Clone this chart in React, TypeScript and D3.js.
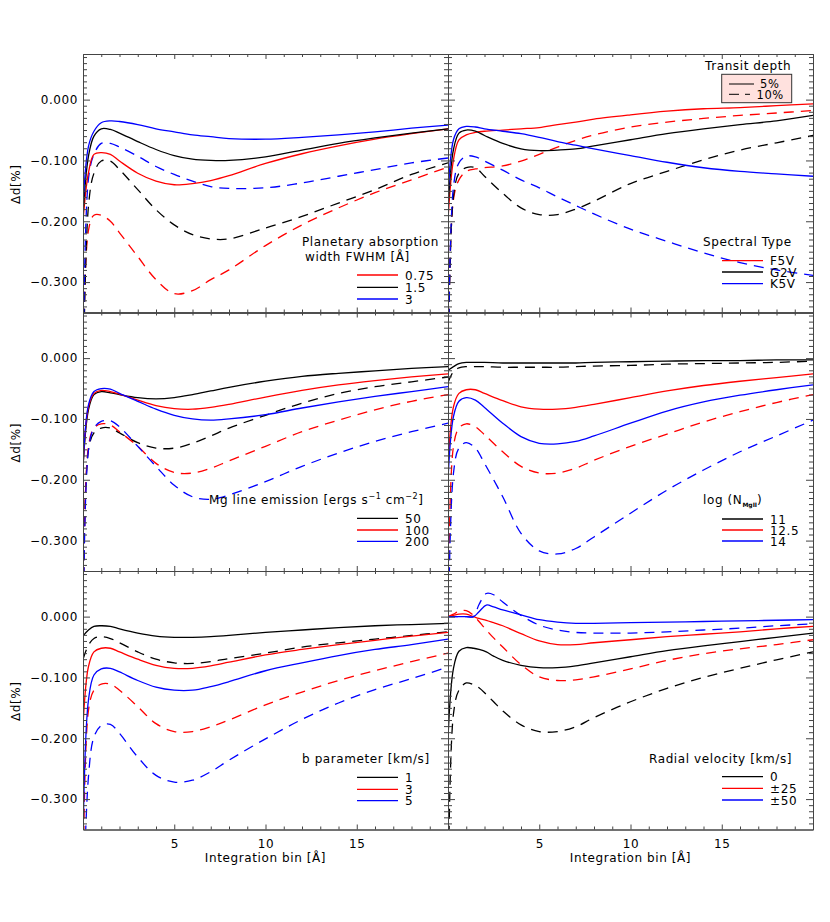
import React, { useRef, useEffect } from 'react';
import * as d3 from 'd3';

// x grid (Integration bin, Å) used for the curves of each panel
const xsA = [0, 0.3, 0.6, 1, 1.5, 2, 3, 4, 5, 6, 7, 8, 10, 12, 14, 16, 18, 20];
const xsB = [0, 0.3, 0.6, 1, 1.4, 1.7, 2.1, 2.5, 3, 4, 5, 6, 7, 8, 10, 12, 14, 16, 18, 20];

const xMajor = [5, 10, 15];
const yMajor = [0, -0.1, -0.2, -0.3];
const yTickLabels = ['0.000', '\u22120.100', '\u22120.200', '\u22120.300'];

// Panel 1: planetary absorption width FWHM (solid = 5%, dashed = 10%)
const fwhm075Solid = [-0.200, -0.120, -0.090, -0.087, -0.090, -0.101, -0.121, -0.134, -0.140, -0.138, -0.133, -0.125, -0.105, -0.089, -0.076, -0.065, -0.056, -0.048];
const fwhm15Solid = [-0.190, -0.093, -0.060, -0.048, -0.049, -0.055, -0.069, -0.082, -0.092, -0.098, -0.100, -0.100, -0.094, -0.083, -0.072, -0.063, -0.055, -0.048];
const fwhm3Solid = [-0.175, -0.077, -0.052, -0.038, -0.035, -0.036, -0.041, -0.048, -0.053, -0.058, -0.061, -0.064, -0.065, -0.062, -0.058, -0.053, -0.047, -0.042];
const fwhm075Dashed = [-0.5, -0.215, -0.190, -0.190, -0.200, -0.219, -0.258, -0.296, -0.319, -0.314, -0.296, -0.280, -0.240, -0.206, -0.178, -0.153, -0.132, -0.111];
const fwhm15Dashed = [-0.5, -0.175, -0.121, -0.101, -0.101, -0.115, -0.148, -0.181, -0.206, -0.222, -0.229, -0.229, -0.211, -0.192, -0.170, -0.148, -0.123, -0.104];
const fwhm3Dashed = [-0.5, -0.130, -0.090, -0.072, -0.072, -0.078, -0.093, -0.110, -0.123, -0.134, -0.143, -0.146, -0.145, -0.137, -0.126, -0.115, -0.104, -0.096];

// Panel 2: spectral type
const f5vSolid = [-0.197, -0.099, -0.066, -0.058, -0.054, -0.052, -0.050, -0.048, -0.046, -0.041, -0.037, -0.032, -0.025, -0.019, -0.015, -0.013, -0.010, -0.007];
const g2vSolid = [-0.180, -0.082, -0.055, -0.050, -0.052, -0.059, -0.072, -0.081, -0.084, -0.083, -0.081, -0.076, -0.066, -0.056, -0.048, -0.041, -0.035, -0.026];
const k5vSolid = [-0.160, -0.066, -0.048, -0.044, -0.045, -0.048, -0.052, -0.056, -0.062, -0.069, -0.075, -0.081, -0.092, -0.103, -0.112, -0.118, -0.122, -0.126];
const f5vDashed = [-0.5, -0.164, -0.132, -0.118, -0.114, -0.112, -0.109, -0.101, -0.090, -0.078, -0.067, -0.058, -0.045, -0.037, -0.031, -0.026, -0.022, -0.018];
const g2vDashed = [-0.5, -0.159, -0.121, -0.112, -0.112, -0.126, -0.154, -0.178, -0.189, -0.189, -0.180, -0.167, -0.138, -0.118, -0.099, -0.083, -0.071, -0.059];
const k5vDashed = [-0.5, -0.143, -0.104, -0.093, -0.094, -0.101, -0.116, -0.132, -0.145, -0.160, -0.174, -0.188, -0.213, -0.233, -0.252, -0.268, -0.280, -0.289];

// Panel 3: Mg line emission
const mg50Solid = [-0.180, -0.085, -0.060, -0.055, -0.057, -0.060, -0.065, -0.067, -0.065, -0.060, -0.054, -0.048, -0.038, -0.030, -0.025, -0.021, -0.017, -0.014];
const mg100Solid = [-0.180, -0.080, -0.058, -0.053, -0.055, -0.059, -0.069, -0.078, -0.083, -0.084, -0.081, -0.076, -0.064, -0.053, -0.044, -0.037, -0.031, -0.026];
const mg200Solid = [-0.180, -0.077, -0.055, -0.050, -0.051, -0.058, -0.071, -0.084, -0.094, -0.100, -0.102, -0.100, -0.093, -0.082, -0.072, -0.063, -0.055, -0.047];
const mg50Dashed = [-0.5, -0.151, -0.123, -0.115, -0.115, -0.123, -0.139, -0.148, -0.148, -0.140, -0.128, -0.115, -0.094, -0.074, -0.058, -0.047, -0.039, -0.031];
const mg100Dashed = [-0.5, -0.145, -0.115, -0.108, -0.110, -0.121, -0.145, -0.173, -0.188, -0.189, -0.181, -0.169, -0.145, -0.121, -0.102, -0.085, -0.071, -0.060];
const mg200Dashed = [-0.5, -0.151, -0.115, -0.104, -0.103, -0.113, -0.145, -0.178, -0.209, -0.228, -0.232, -0.225, -0.203, -0.178, -0.156, -0.137, -0.121, -0.107];

// Panel 4: log(N_MgII)
const n11Solid = [-0.020, -0.014, -0.009, -0.007, -0.007, -0.007, -0.008, -0.008, -0.008, -0.008, -0.008, -0.007, -0.006, -0.005, -0.004, -0.004, -0.003, -0.003];
const n125Solid = [-0.180, -0.080, -0.058, -0.052, -0.052, -0.058, -0.070, -0.080, -0.084, -0.084, -0.081, -0.076, -0.065, -0.054, -0.045, -0.038, -0.032, -0.026];
const n14Solid = [-0.200, -0.096, -0.071, -0.065, -0.069, -0.081, -0.107, -0.129, -0.140, -0.141, -0.137, -0.128, -0.107, -0.087, -0.072, -0.061, -0.052, -0.044];
const n11Dashed = [-0.040, -0.022, -0.016, -0.014, -0.014, -0.014, -0.015, -0.015, -0.015, -0.015, -0.014, -0.013, -0.012, -0.010, -0.009, -0.008, -0.007, -0.005];
const n125Dashed = [-0.5, -0.145, -0.115, -0.108, -0.113, -0.126, -0.154, -0.178, -0.189, -0.189, -0.181, -0.168, -0.145, -0.125, -0.105, -0.088, -0.073, -0.060];
const n14Dashed = [-0.5, -0.189, -0.148, -0.139, -0.148, -0.173, -0.228, -0.288, -0.317, -0.322, -0.313, -0.294, -0.255, -0.217, -0.184, -0.154, -0.128, -0.102];

// Panel 5: b parameter
const b1Solid = [-0.032, -0.022, -0.016, -0.015, -0.016, -0.020, -0.027, -0.032, -0.034, -0.034, -0.033, -0.031, -0.026, -0.022, -0.018, -0.015, -0.013, -0.011];
const b3Solid = [-0.180, -0.082, -0.058, -0.052, -0.052, -0.058, -0.070, -0.080, -0.085, -0.085, -0.081, -0.075, -0.063, -0.054, -0.046, -0.039, -0.032, -0.026];
const b5Solid = [-0.370, -0.137, -0.096, -0.086, -0.085, -0.091, -0.105, -0.116, -0.121, -0.121, -0.115, -0.107, -0.089, -0.076, -0.064, -0.054, -0.046, -0.037];
const b1Dashed = [-0.070, -0.047, -0.036, -0.033, -0.036, -0.043, -0.058, -0.070, -0.076, -0.077, -0.074, -0.069, -0.060, -0.050, -0.043, -0.037, -0.031, -0.025];
const b3Dashed = [-0.5, -0.154, -0.121, -0.111, -0.111, -0.121, -0.148, -0.176, -0.189, -0.189, -0.181, -0.170, -0.145, -0.124, -0.105, -0.089, -0.074, -0.060];
const b5Dashed = [-0.5, -0.263, -0.198, -0.179, -0.177, -0.192, -0.231, -0.261, -0.272, -0.269, -0.255, -0.236, -0.201, -0.169, -0.142, -0.120, -0.102, -0.083];

// Panel 6: radial velocity
const rv0Solid = [-0.200, -0.085, -0.057, -0.051, -0.052, -0.054, -0.058, -0.065, -0.072, -0.080, -0.084, -0.084, -0.081, -0.076, -0.066, -0.056, -0.048, -0.041, -0.034, -0.027];
const rv25Solid = [0.000, 0.002, 0.004, 0.004, 0.000, -0.003, -0.006, -0.010, -0.015, -0.028, -0.040, -0.046, -0.046, -0.043, -0.038, -0.033, -0.029, -0.025, -0.020, -0.016];
const rv50Solid = [0.000, 0.000, 0.000, 0.000, 0.000, 0.008, 0.019, 0.016, 0.011, 0.003, -0.005, -0.009, -0.011, -0.011, -0.010, -0.009, -0.008, -0.007, -0.006, -0.005];
const rv0Dashed = [-0.5, -0.160, -0.121, -0.109, -0.112, -0.117, -0.128, -0.140, -0.155, -0.178, -0.189, -0.189, -0.181, -0.166, -0.140, -0.118, -0.100, -0.085, -0.071, -0.058];
const rv25Dashed = [0.000, 0.004, 0.009, 0.010, 0.002, -0.008, -0.022, -0.035, -0.050, -0.079, -0.099, -0.105, -0.104, -0.099, -0.086, -0.072, -0.061, -0.053, -0.046, -0.038];
const rv50Dashed = [0.000, 0.000, 0.000, 0.000, 0.000, 0.020, 0.038, 0.036, 0.024, 0.002, -0.014, -0.022, -0.026, -0.027, -0.027, -0.025, -0.022, -0.019, -0.015, -0.012];

const RED = '#ff0000';
const BLUE = '#0000ff';
const BLACK = '#000000';

type Seg = { t: string; sup?: boolean; sub?: boolean };
type Series = { ys: number[]; color: string; dashed: boolean };
type Panel = {
    col: number;
    row: number;
    xs: number[];
    series: Series[];
    titles: { segs: Seg[]; x: number; y: number }[];
    entries: { label: string; color: string; y: number }[];
};

const panels: Panel[] = [
    {
        col: 0, row: 0, xs: xsA,
        series: [
            { ys: fwhm075Dashed, color: RED, dashed: true },
            { ys: fwhm15Dashed, color: BLACK, dashed: true },
            { ys: fwhm3Dashed, color: BLUE, dashed: true },
            { ys: fwhm075Solid, color: RED, dashed: false },
            { ys: fwhm15Solid, color: BLACK, dashed: false },
            { ys: fwhm3Solid, color: BLUE, dashed: false },
        ],
        titles: [
            { segs: [{ t: 'Planetary absorption' }], x: 219, y: 191.7 },
            { segs: [{ t: 'width FWHM [\u00c5]' }], x: 222, y: 206.7 },
        ],
        entries: [
            { label: '0.75', color: RED, y: 221 },
            { label: '1.5', color: BLACK, y: 233.3 },
            { label: '3', color: BLUE, y: 245 },
        ],
    },
    {
        col: 1, row: 0, xs: xsA,
        series: [
            { ys: f5vDashed, color: RED, dashed: true },
            { ys: g2vDashed, color: BLACK, dashed: true },
            { ys: k5vDashed, color: BLUE, dashed: true },
            { ys: f5vSolid, color: RED, dashed: false },
            { ys: g2vSolid, color: BLACK, dashed: false },
            { ys: k5vSolid, color: BLUE, dashed: false },
        ],
        titles: [{ segs: [{ t: 'Spectral Type' }], x: 255, y: 191.7 }],
        entries: [
            { label: 'F5V', color: RED, y: 206.7 },
            { label: 'G2V', color: BLACK, y: 218 },
            { label: 'K5V', color: BLUE, y: 229.7 },
        ],
    },
    {
        col: 0, row: 1, xs: xsA,
        series: [
            { ys: mg50Dashed, color: BLACK, dashed: true },
            { ys: mg100Dashed, color: RED, dashed: true },
            { ys: mg200Dashed, color: BLUE, dashed: true },
            { ys: mg50Solid, color: BLACK, dashed: false },
            { ys: mg100Solid, color: RED, dashed: false },
            { ys: mg200Solid, color: BLUE, dashed: false },
        ],
        titles: [{
            segs: [{ t: 'Mg line emission [ergs s' }, { t: '\u22121', sup: true }, { t: ' cm' }, { t: '\u22122', sup: true }, { t: ']' }],
            x: 126, y: 191.5,
        }],
        entries: [
            { label: '50', color: BLACK, y: 205.8 },
            { label: '100', color: RED, y: 217.5 },
            { label: '200', color: BLUE, y: 228.8 },
        ],
    },
    {
        col: 1, row: 1, xs: xsA,
        series: [
            { ys: n11Dashed, color: BLACK, dashed: true },
            { ys: n125Dashed, color: RED, dashed: true },
            { ys: n14Dashed, color: BLUE, dashed: true },
            { ys: n11Solid, color: BLACK, dashed: false },
            { ys: n125Solid, color: RED, dashed: false },
            { ys: n14Solid, color: BLUE, dashed: false },
        ],
        titles: [{ segs: [{ t: 'log (N' }, { t: 'MgII', sub: true }, { t: ')' }], x: 255, y: 191.5 }],
        entries: [
            { label: '11', color: BLACK, y: 206.5 },
            { label: '12.5', color: RED, y: 217.5 },
            { label: '14', color: BLUE, y: 228.5 },
        ],
    },
    {
        col: 0, row: 2, xs: xsA,
        series: [
            { ys: b1Dashed, color: BLACK, dashed: true },
            { ys: b3Dashed, color: RED, dashed: true },
            { ys: b5Dashed, color: BLUE, dashed: true },
            { ys: b1Solid, color: BLACK, dashed: false },
            { ys: b3Solid, color: RED, dashed: false },
            { ys: b5Solid, color: BLUE, dashed: false },
        ],
        titles: [{ segs: [{ t: 'b parameter [km/s]' }], x: 219, y: 191.7 }],
        entries: [
            { label: '1', color: BLACK, y: 206.3 },
            { label: '3', color: RED, y: 218.3 },
            { label: '5', color: BLUE, y: 229.7 },
        ],
    },
    {
        col: 1, row: 2, xs: xsB,
        series: [
            { ys: rv0Dashed, color: BLACK, dashed: true },
            { ys: rv25Dashed, color: RED, dashed: true },
            { ys: rv50Dashed, color: BLUE, dashed: true },
            { ys: rv0Solid, color: BLACK, dashed: false },
            { ys: rv25Solid, color: RED, dashed: false },
            { ys: rv50Solid, color: BLUE, dashed: false },
        ],
        titles: [{ segs: [{ t: 'Radial velocity [km/s]' }], x: 201, y: 192.3 }],
        entries: [
            { label: '0', color: BLACK, y: 205.7 },
            { label: '\u00b125', color: RED, y: 217.3 },
            { label: '\u00b150', color: BLUE, y: 229 },
        ],
    },
];

const FONT = 'DejaVu Sans, sans-serif';

export default function App() {
    const svgRef = useRef<SVGSVGElement>(null);

    useEffect(() => {
        if (!svgRef.current) return;
        const svg = d3.select(svgRef.current);
        svg.selectAll('*').remove();

        const width = 830, height = 922;
        const colX = [83, 448];
        const rowY = [54, 312.5, 571];
        const pw = 365, ph = 258.5;

        svg.append('rect').attr('width', width).attr('height', height).attr('fill', '#fff');

        const x = d3.scaleLinear().domain([0, 20]).range([0, pw]);
        const y = d3.scaleLinear().domain([-0.35, 0.075]).range([ph, 0]);

        const xMinor = d3.range(1, 20).filter(v => v % 5 !== 0);
        const yMinor = d3.range(-34, 8).filter(v => v % 10 !== 0).map(v => v / 100);

        const styleAxis = (sel: d3.Selection<SVGGElement, unknown, null, undefined>) => {
            sel.attr('color', '#444')
                .attr('font-family', FONT)
                .attr('font-size', 12)
                .attr('letter-spacing', 0.6);
            sel.selectAll('text').attr('fill', '#000');
        };

        panels.forEach((p, i) => {
            const g = svg.append('g').attr('transform', `translate(${colX[p.col]},${rowY[p.row]})`);
            const clipId = `clip-${i}`;
            g.append('clipPath').attr('id', clipId)
                .append('rect').attr('width', pw).attr('height', ph);

            // curves
            const line = d3.line<number>()
                .x((_, k) => x(p.xs[k]))
                .y(d => y(d))
                .curve(d3.curveCatmullRom.alpha(0.5));
            const curves = g.append('g').attr('clip-path', `url(#${clipId})`);
            p.series.forEach(s => {
                curves.append('path')
                    .datum(s.ys)
                    .attr('fill', 'none')
                    .attr('stroke', s.color)
                    .attr('stroke-width', 1.3)
                    .attr('stroke-dasharray', s.dashed ? '10,7' : null)
                    .attr('d', line);
            });

            // axes: ticks on all four sides, pointing inward
            const bottomLabels = p.row === 2;
            g.append('g').attr('transform', `translate(0,${ph})`)
                .call(d3.axisBottom(x).tickValues(xMajor).tickSizeInner(-5).tickSizeOuter(0).tickPadding(10)
                    .tickFormat(v => (bottomLabels ? String(v) : '')))
                .call(styleAxis);
            g.append('g').attr('transform', `translate(0,${ph})`)
                .call(d3.axisBottom(x).tickValues(xMinor).tickSizeInner(-3).tickSizeOuter(0).tickFormat(() => ''))
                .call(styleAxis);
            g.append('g')
                .call(d3.axisTop(x).tickValues(xMajor).tickSizeInner(-5).tickSizeOuter(0).tickFormat(() => ''))
                .call(styleAxis);
            g.append('g')
                .call(d3.axisTop(x).tickValues(xMinor).tickSizeInner(-3).tickSizeOuter(0).tickFormat(() => ''))
                .call(styleAxis);

            const leftLabels = p.col === 0;
            g.append('g')
                .call(d3.axisLeft(y).tickValues(yMajor).tickSizeInner(-7).tickSizeOuter(0).tickPadding(5)
                    .tickFormat((_, k) => (leftLabels ? yTickLabels[k] : '')))
                .call(styleAxis);
            g.append('g')
                .call(d3.axisLeft(y).tickValues(yMinor).tickSizeInner(-4).tickSizeOuter(0).tickFormat(() => ''))
                .call(styleAxis);
            g.append('g').attr('transform', `translate(${pw},0)`)
                .call(d3.axisRight(y).tickValues(yMajor).tickSizeInner(-7).tickSizeOuter(0).tickFormat(() => ''))
                .call(styleAxis);
            g.append('g').attr('transform', `translate(${pw},0)`)
                .call(d3.axisRight(y).tickValues(yMinor).tickSizeInner(-4).tickSizeOuter(0).tickFormat(() => ''))
                .call(styleAxis);

            // y title
            if (leftLabels) {
                svg.append('text')
                    .attr('transform', `translate(20,${rowY[p.row] + ph / 2 + 1}) rotate(-90)`)
                    .attr('text-anchor', 'middle')
                    .attr('font-family', FONT)
                    .attr('font-size', 12)
                    .attr('letter-spacing', 0.6)
                    .text('\u0394d[%]');
            }
            // x title
            if (bottomLabels) {
                svg.append('text')
                    .attr('x', colX[p.col] + pw / 2)
                    .attr('y', 862)
                    .attr('text-anchor', 'middle')
                    .attr('font-family', FONT)
                    .attr('font-size', 12)
                    .attr('letter-spacing', 0.6)
                    .text('Integration bin [\u00c5]');
            }

            // legend
            const lg = g.append('g').attr('font-family', FONT).attr('font-size', 12).attr('letter-spacing', 0.6);
            p.titles.forEach(tt => {
                const txt = lg.append('text').attr('x', tt.x).attr('y', tt.y);
                let shift = 0;
                tt.segs.forEach(s => {
                    const target = s.sup ? -5 : s.sub ? 3 : 0;
                    const ts = txt.append('tspan').attr('dy', target - shift).text(s.t);
                    if (s.sup) ts.attr('font-size', 8);
                    if (s.sub) ts.attr('font-size', 6).attr('font-weight', 'bold').attr('letter-spacing', 0);
                    shift = target;
                });
            });
            p.entries.forEach(e => {
                lg.append('line')
                    .attr('x1', 274).attr('x2', 315)
                    .attr('y1', e.y).attr('y2', e.y)
                    .attr('stroke', e.color).attr('stroke-width', 1.3);
                lg.append('text').attr('x', 322).attr('y', e.y + 4.5).text(e.label);
            });

            // transit depth legend (top right panel)
            if (p.col === 1 && p.row === 0) {
                lg.append('text').attr('x', 257).attr('y', 16).text('Transit depth');
                lg.append('rect')
                    .attr('x', 273.7).attr('y', 20.3).attr('width', 70).attr('height', 28.4)
                    .attr('fill', '#ffe1de').attr('stroke', '#333').attr('stroke-width', 1);
                lg.append('line').attr('x1', 281).attr('x2', 306).attr('y1', 30).attr('y2', 30)
                    .attr('stroke', '#000').attr('stroke-width', 1);
                lg.append('text').attr('x', 312).attr('y', 34.3).attr('font-size', 11.5).text('5%');
                lg.append('line').attr('x1', 281).attr('x2', 302).attr('y1', 40.3).attr('y2', 40.3)
                    .attr('stroke', '#000').attr('stroke-width', 1).attr('stroke-dasharray', '10,6');
                lg.append('text').attr('x', 308.5).attr('y', 44.6).attr('font-size', 11.5).text('10%');
            }
        });
    }, []);

    return (
        <svg
            ref={svgRef}
            width={830}
            height={922}
            style={{ position: 'absolute', left: 0, top: 0, display: 'block' }}
        />
    );
}
